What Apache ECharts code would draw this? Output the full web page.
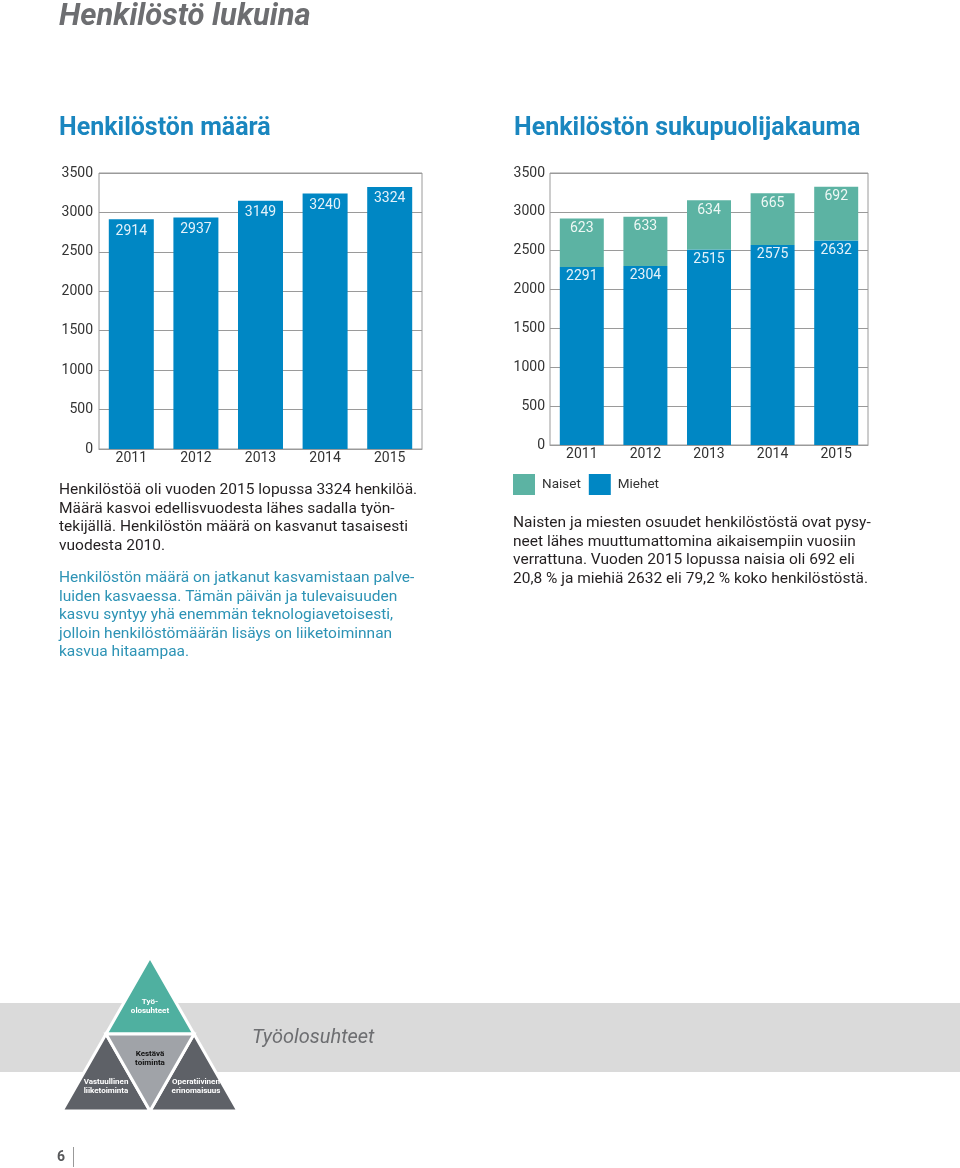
<!DOCTYPE html>
<html><head><meta charset="utf-8">
<script src="https://cdn.jsdelivr.net/npm/echarts@6/dist/echarts.min.js"></script>
<style>html,body{margin:0;padding:0;background:#fff}#c{width:960px;height:1168px}</style>
</head><body><div id="c"></div>
<script>
const years = ['2011','2012','2013','2014','2015'];
const totalStaff = [2914, 2937, 3149, 3240, 3324];
const men = [2291, 2304, 2515, 2575, 2632];
const women = [623, 633, 634, 665, 692];
const yTicks = [0, 500, 1000, 1500, 2000, 2500, 3000, 3500];

const BLUE = '#0087c4', TEAL = '#5cb3a3', GRID = '#9a9a9a', FONT = 'Roboto, "Liberation Sans", sans-serif';
const chart = echarts.init(document.getElementById('c'));

function yAxis(i, margin){
  return {type:'value', gridIndex:i, min:yTicks[0], max:yTicks[yTicks.length-1], interval:yTicks[1]-yTicks[0],
    axisLine:{show:false}, axisTick:{show:false},
    splitLine:{lineStyle:{color:GRID, width:1}},
    axisLabel:{color:'#333', fontSize:14, fontFamily:FONT, margin:margin, formatter:v => String(v)}};
}
function xAxis(i, margin){
  return {type:'category', gridIndex:i, data:years, axisTick:{show:false},
    axisLine:{lineStyle:{color:GRID}},
    axisLabel:{color:'#333', fontSize:14, fontFamily:FONT, margin:margin}};
}
const lbl = (c, d) => ({show:true, position:'insideTop', distance:d, color:c, fontSize:14, fontFamily:FONT});

const bodyLeft1 = 'Henkilöstöä oli vuoden 2015 lopussa 3324 henkilöä.\nMäärä kasvoi edellisvuodesta lähes sadalla työn-\ntekijällä. Henkilöstön määrä on kasvanut tasaisesti\nvuodesta 2010.';
const bodyLeft2 = 'Henkilöstön määrä on jatkanut kasvamistaan palve-\nluiden kasvaessa. Tämän päivän ja tulevaisuuden\nkasvu syntyy yhä enemmän teknologiavetoisesti,\njolloin henkilöstömäärän lisäys on liiketoiminnan\nkasvua hitaampaa.';
const bodyRight = 'Naisten ja miesten osuudet henkilöstöstä ovat pysy-\nneet lähes muuttumattomina aikaisempiin vuosiin\nverrattuna. Vuoden 2015 lopussa naisia oli 692 eli\n20,8 % ja miehiä 2632 eli 79,2 % koko henkilöstöstä.';

const A=[150,957], L=[62,1111], R=[238,1111], ML=[106,1034], MR=[194,1034], MB=[150,1111];
const tri = (pts, fill) => ({type:'polygon', shape:{points:pts}, style:{fill:fill, stroke:'#fff', lineWidth:3}});
const small = (x,y,t,c) => ({type:'text', x:x, y:y, style:{text:t, fill:c, font:'bold 8px '+FONT, align:'center', verticalAlign:'middle', lineHeight:9}});

chart.setOption({
  animation:false,
  grid:[
    {left:99, top:173, width:323, height:276, show:true, borderColor:GRID, borderWidth:1},
    {left:550, top:173, width:318, height:272, show:true, borderColor:GRID, borderWidth:1}
  ],
  xAxis:[xAxis(0,2), xAxis(1,2)],
  yAxis:[yAxis(0,6), yAxis(1,5)],
  legend:{left:508, top:469, itemWidth:22, itemHeight:21, itemGap:8, icon:'rect', data:['Naiset','Miehet'],
    textStyle:{color:'#333', fontSize:13.5, fontFamily:FONT, padding:[0,0,0,2]}},
  series:[
    {type:'bar', name:'Henkilöstö', xAxisIndex:0, yAxisIndex:0, data:totalStaff, barWidth:45,
      itemStyle:{color:BLUE}, label:lbl('#e4f2fa',5)},
    {type:'bar', name:'Miehet', xAxisIndex:1, yAxisIndex:1, stack:'s', data:men, barWidth:44,
      itemStyle:{color:BLUE}, label:lbl('#e4f2fa',3)},
    {type:'bar', name:'Naiset', xAxisIndex:1, yAxisIndex:1, stack:'s', data:women, barWidth:44,
      itemStyle:{color:TEAL}, label:lbl('#eef8f5',3)}
  ],
  graphic:[
    {type:'text', x:59, y:17, style:{text:'Henkilöstö lukuina', fill:'#6d6e71', font:'italic bold 31px '+FONT, verticalAlign:'middle'}},
    {type:'text', x:59, y:129, style:{text:'Henkilöstön määrä', fill:'#1a86bf', font:'bold 25px '+FONT, verticalAlign:'middle'}},
    {type:'text', x:514, y:129, style:{text:'Henkilöstön sukupuolijakauma', fill:'#1a86bf', font:'bold 25px '+FONT, verticalAlign:'middle'}},
    {type:'text', x:59, y:481, style:{text:bodyLeft1, fill:'#231f20', font:'15.5px '+FONT, lineHeight:18.5}},
    {type:'text', x:59, y:569, style:{text:bodyLeft2, fill:'#2d93b5', font:'15.5px '+FONT, lineHeight:18.5}},
    {type:'text', x:513, y:514, style:{text:bodyRight, fill:'#231f20', font:'15.5px '+FONT, lineHeight:18.5}},
    {type:'rect', shape:{x:0, y:1003, width:960, height:69}, style:{fill:'#dadada'}},
    tri([A,MR,ML], '#4fb0a0'),
    tri([ML,MB,L], '#5e6167'),
    tri([MR,R,MB], '#5e6167'),
    tri([ML,MR,MB], '#a0a3a8'),
    small(150,1006,'Työ-\nolosuhteet','#fff'),
    small(150,1058,'Kestävä\ntoiminta','#111'),
    small(106,1086,'Vastuullinen\nliiketoiminta','#fff'),
    small(196,1086,'Operatiivinen\nerinomaisuus','#fff'),
    {type:'text', x:252, y:1038, style:{text:'Työolosuhteet', fill:'#6d6e71', font:'italic 20px '+FONT, verticalAlign:'middle'}},
    {type:'text', x:57, y:1157, style:{text:'6', fill:'#58595b', font:'bold 14px '+FONT, verticalAlign:'middle'}},
    {type:'line', shape:{x1:73.5, y1:1147, x2:73.5, y2:1167}, style:{stroke:'#999', lineWidth:1}}
  ]
});
</script></body></html>
